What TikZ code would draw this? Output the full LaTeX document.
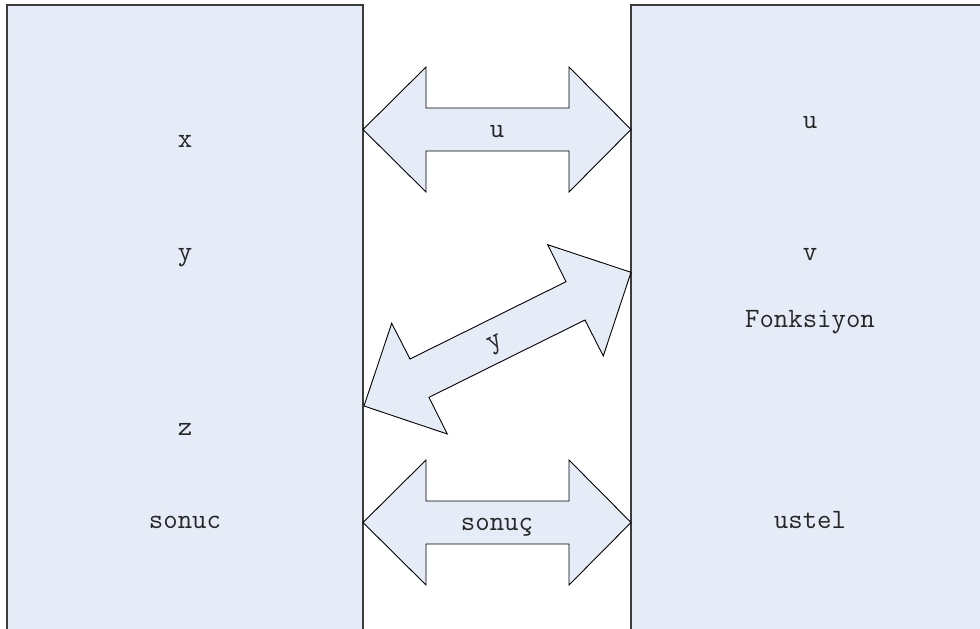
\documentclass[tikz,border=0pt]{standalone}
\usepackage{fontspec}
\definecolor{panelfill}{HTML}{E6ECF7}
\definecolor{panelline}{HTML}{3C3C3C}
\definecolor{inkcol}{HTML}{262626}
\tikzset{
  panel/.style={draw=panelline, line width=2pt, fill=panelfill},
  blockarrow/.style={draw=black, line width=0.9pt, fill=panelfill, line join=miter},
  lbl/.style={font=\ttfamily\fontsize{28}{28}\selectfont, text=inkcol, anchor=base, inner sep=0pt}
}
\begin{document}
\begin{tikzpicture}[x=1pt, y=-1pt]
\useasboundingbox (0,0) rectangle (980,629);
\clip (0,0) rectangle (980,629);
% the two side panels, running past the lower (and right) edge
\draw[panel] (7,5) rectangle (363,660);
\draw[panel] (631,5) rectangle (1000,660);
% upper double arrow
\draw[blockarrow] (363,129.5) -- (426,67) -- (426,108) -- (569,108) -- (569,67)
  -- (631,129.5) -- (569,192) -- (569,151) -- (426,151) -- (426,192) -- cycle;
% slanted double arrow
\draw[blockarrow] (364,406) -- (391.7,323.3) -- (410,359) -- (566,281.7) -- (547.7,244.7)
  -- (631,272.3) -- (603.3,356) -- (585,320) -- (429,397.3) -- (447.3,434) -- cycle;
% lower double arrow
\draw[blockarrow] (363,522.5) -- (426,460) -- (426,501) -- (569,501) -- (569,460)
  -- (631,522.5) -- (569,585) -- (569,544) -- (426,544) -- (426,585) -- cycle;
% labels of the left panel
\node[lbl] (lx) at (185,147) {x};
\node[lbl] (ly) at (185,260) {y};
\node[lbl] (lz) at (185,435) {z};
\node[lbl] (lsonuc) at (185,528) {sonuc};
% labels of the right panel
\node[lbl] (ru) at (810,128) {u};
\node[lbl] (rv) at (810,260) {v};
\node[lbl] (rfonk) at (810,327) {Fonksiyon};
\node[lbl] (rustel) at (810,528) {ustel};
% arrow labels
\node[lbl] (au) at (497,137) {u};
\node[lbl, rotate=26.6] (ay) at (497,347) {y};
\node[lbl] (as) at (497,530) {sonuç};
\end{tikzpicture}
\end{document}
